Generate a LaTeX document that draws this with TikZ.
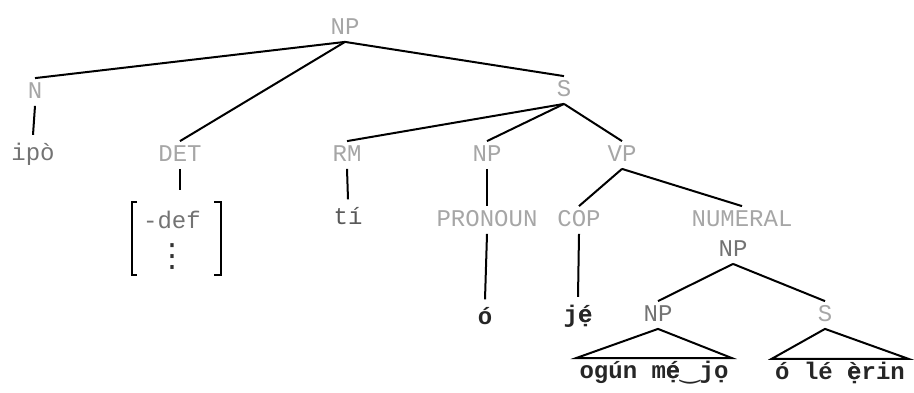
\documentclass[tikz,border=0pt]{standalone}
\usepackage{fontspec}
\setmonofont{Liberation Mono}
\newfontfamily\tiefont{DejaVu Sans}
% e with dot below and a tone mark, overlaid from two letters
\newcommand\edacute{\makebox[0pt][l]{ẹ}é}
\newcommand\edgrave{\makebox[0pt][l]{ẹ}è}

\tikzset{
  cat/.style={font=\ttfamily\fontsize{12}{14}\selectfont, text=black!35,
    text height=6.5pt, text depth=0pt, inner sep=3.5pt},
  word/.style={font=\ttfamily\fontsize{12}{14}\selectfont, text=black!55,
    inner sep=1pt, outer sep=3pt},
  leaf/.style={font=\ttfamily\bfseries\fontsize{12}{14}\selectfont, text=black!85,
    inner sep=1pt, outer sep=3pt},
  phrase/.style={font=\ttfamily\bfseries\fontsize{12}{14}\selectfont, text=black!85,
    inner sep=1.5pt},
  branch/.style={line width=1pt}
}

\begin{document}
\begin{tikzpicture}[x=0.5pt, y=-0.5pt]
  \useasboundingbox (0,0) rectangle (914,392);

  % Categories
  \node[cat] (np) at (345,28) {NP};
  \node[cat] (n) at (35,92) {N};
  \node[cat] (s) at (564,90) {S};
  \node[cat] (det) at (180,155) {DET};
  \node[cat] (rm) at (347,155) {RM};
  \node[cat] (subj) at (487,155) {NP};
  \node[cat] (vp) at (622,155) {VP};
  \node[cat] (pron) at (487,220) {PRONOUN};
  \node[cat] (cop) at (579,220) {COP};
  \node[cat] (num) at (742,220) {NUMERAL};
  \node[cat, text=black!55] (numnp) at (733,250) {NP};
  \node[cat, text=black!55] (np4) at (658,315) {NP};
  \node[cat] (s2) at (825,315) {S};

  % Words
  \node[word] (ipo) at (33,154) {ipò};
  \node[word] (def) at (172,220) {-def};
  \node[word, text=black!80, font=\tiefont\fontsize{16}{16}\selectfont] (dots) at (172,257) {⋮};
  \node[word, text=black!65] (ti) at (348,216) {tí};
  \node[leaf] (o) at (485,316) {ó};
  \node[leaf] (je) at (578,316) {j\edacute};
  \node[phrase] (ogun) at (654,373) {ogún m\edacute{\tiefont\mdseries ‿}jọ};
  \node[phrase] (ole) at (840,373) {ó lé \edgrave rin};
  \coordinate (feat) at (180,190);

  % Branches
  \draw[branch] (np.south) -- (n.north);
  \draw[branch] (np.south) -- (det.north);
  \draw[branch] (np.south) -- (s.north);
  \draw[branch] (n.south) -- (ipo.north);
  \draw[branch] (det.south) -- (feat);
  \draw[branch] (s.south) -- (rm.north);
  \draw[branch] (s.south) -- (subj.north);
  \draw[branch] (s.south) -- (vp.north);
  \draw[branch] (rm.south) -- (ti.north);
  \draw[branch] (subj.south) -- (pron.north);
  \draw[branch] (pron.south) -- (o.north);
  \draw[branch] (vp.south) -- (cop.north);
  \draw[branch] (vp.south) -- (num.north);
  \draw[branch] (cop.south) -- (je.north);
  \draw[branch] (numnp.south) -- (np4.north);
  \draw[branch] (numnp.south) -- (s2.north);

  % Triangles
  \draw[branch] (np4.south) -- (ogun.north west) -- (ogun.north east) -- cycle;
  \draw[branch] (s2.south) -- (ole.north west) -- (ole.north east) -- cycle;

  % Feature bracket
  \draw[branch] (137,202) -- (132,202) -- (132,275) -- (137,275);
  \draw[branch] (214,202) -- (221,202) -- (221,275) -- (214,275);
\end{tikzpicture}
\end{document}
